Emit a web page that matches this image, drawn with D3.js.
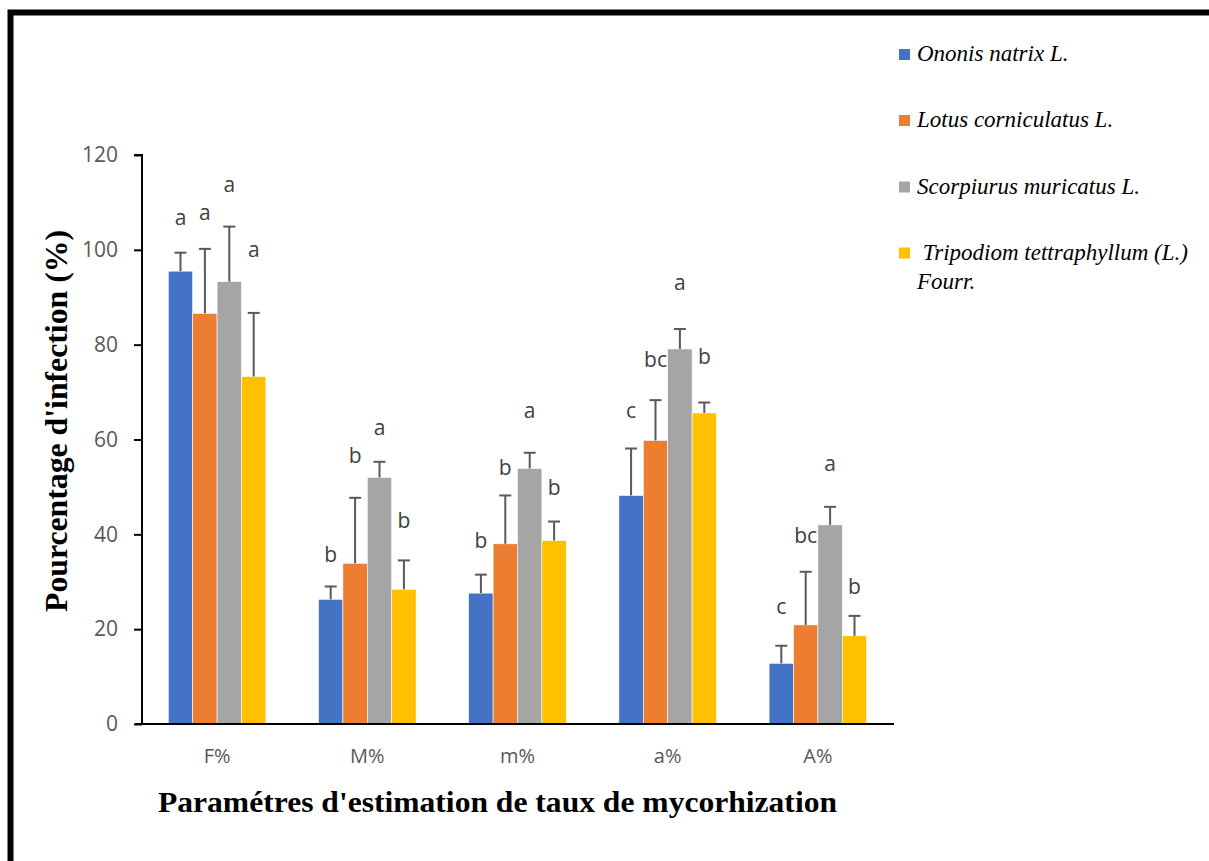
<!DOCTYPE html>
<html>
<head>
<meta charset="utf-8">
<script src="https://cdn.jsdelivr.net/npm/d3@7"></script>
<style>
  html, body { margin: 0; padding: 0; background: #fff; }
  svg { display: block; }
  .serif { font-family: "Times New Roman", Times, "Liberation Serif", Tinos, serif; }
  .sans { font-family: "Open Sans", sans-serif; }
</style>
</head>
<body>
<svg id="chart" width="1209" height="861"></svg>
<script>
// ---- data ----
const categories = ["F%", "M%", "m%", "a%", "A%"];
const seriesNames = ["Ononis natrix L.", "Lotus corniculatus L.", "Scorpiurus muricatus L.", "Tripodiom tettraphyllum (L.) Fourr."];
const ononisValues   = [95.5, 26.3, 27.6, 48.2, 12.8];
const lotusValues    = [86.6, 33.9, 38.0, 59.8, 20.9];
const scorpiValues   = [93.3, 52.0, 53.9, 79.1, 42.0];
const tripoValues    = [73.3, 28.4, 38.7, 65.6, 18.6];
const ononisErrTop   = [99.4, 29.0, 31.5, 58.1, 16.5];
const lotusErrTop    = [100.2, 47.7, 48.2, 68.3, 32.1];
const scorpiErrTop   = [104.9, 55.3, 57.2, 83.3, 45.8];
const tripoErrTop    = [86.7, 34.5, 42.7, 67.8, 22.8];
const ononisLetters  = ["a", "b", "b", "c", "c"];
const lotusLetters   = ["a", "b", "b", "bc", "bc"];
const scorpiLetters  = ["a", "a", "a", "a", "a"];
const tripoLetters   = ["a", "b", "b", "b", "b"];
const ononisLetterAt = [105.2, 34.2, 37.2, 64.5, 23.3];
const lotusLetterAt  = [106.3, 55.1, 52.5, 75.2, 38.1];
const scorpiLetterAt = [112.2, 60.9, 64.5, 91.5, 53.4];
const tripoLetterAt  = [98.5, 41.4, 48.3, 75.9, 27.4];
const yTicks = [0, 20, 40, 60, 80, 100, 120];
const colors = ["#4472C4", "#ED7D31", "#A5A5A5", "#FFC000"];

const seriesData = [
  {name: seriesNames[0], values: ononisValues, err: ononisErrTop, letters: ononisLetters, letterAt: ononisLetterAt},
  {name: seriesNames[1], values: lotusValues, err: lotusErrTop, letters: lotusLetters, letterAt: lotusLetterAt},
  {name: seriesNames[2], values: scorpiValues, err: scorpiErrTop, letters: scorpiLetters, letterAt: scorpiLetterAt},
  {name: seriesNames[3], values: tripoValues, err: tripoErrTop, letters: tripoLetters, letterAt: tripoLetterAt}
];

const svg = d3.select("#chart");

// outer frame (extends past right/bottom edges)
svg.append("rect")
  .attr("x", 10.5).attr("y", 12.5)
  .attr("width", 1300).attr("height", 1000)
  .attr("fill", "none").attr("stroke", "#000").attr("stroke-width", 6);

const plotLeft = 142, plotRight = 893, plotTop = 155, plotBottom = 724;

const x0 = d3.scaleBand().domain(categories).range([plotLeft, plotRight])
  .paddingInner(0.35).paddingOuter(0.175);
const x1 = d3.scaleBand().domain(d3.range(seriesData.length)).range([0, x0.bandwidth()]).padding(0);
const y = d3.scaleLinear().domain([0, 120]).range([plotBottom, plotTop]);

// y axis
const yAxis = svg.append("g").attr("transform", `translate(${plotLeft},0)`)
  .call(d3.axisLeft(y).tickValues(yTicks).tickSize(8).tickPadding(16).tickFormat(d3.format("d")));
yAxis.attr("font-family", null).attr("font-size", null);
yAxis.select(".domain").attr("stroke", "#000").attr("stroke-width", 2).attr("d", `M-8,${plotTop}H0V${plotBottom}`);
yAxis.selectAll(".tick line").attr("stroke", "#000").attr("stroke-width", 2);
yAxis.selectAll(".tick text").attr("fill", "#595959").attr("class", "sans")
  .style("font-size", "21px");

// bars
seriesData.forEach((s, si) => {
  const g = svg.append("g");
  g.selectAll("rect").data(categories).join("rect")
    .attr("x", (c) => x0(c) + x1(si))
    .attr("y", (c, ci) => y(s.values[ci]))
    .attr("width", x1.bandwidth())
    .attr("height", (c, ci) => y(0) - y(s.values[ci]))
    .attr("fill", colors[si])
    .attr("stroke", "#fff").attr("stroke-width", 0.6);
});

// error bars
seriesData.forEach((s, si) => {
  const g = svg.append("g").attr("stroke", "#595959").attr("stroke-width", 2);
  categories.forEach((c, ci) => {
    const cx = x0(c) + x1(si) + x1.bandwidth() / 2;
    g.append("line").attr("x1", cx).attr("x2", cx)
      .attr("y1", y(s.values[ci])).attr("y2", y(s.err[ci]));
    g.append("line").attr("x1", cx - 6).attr("x2", cx + 6)
      .attr("y1", y(s.err[ci])).attr("y2", y(s.err[ci]));
  });
});

// significance letters
seriesData.forEach((s, si) => {
  svg.append("g").selectAll("text").data(categories).join("text")
    .attr("class", "sans")
    .attr("x", (c) => x0(c) + x1(si) + x1.bandwidth() / 2)
    .attr("y", (c, ci) => y(s.letterAt[ci]))
    .attr("text-anchor", "middle")
    .attr("fill", "#404040")
    .style("font-size", "21px")
    .text((c, ci) => s.letters[ci]);
});

// x axis
const xAxis = svg.append("g").attr("transform", `translate(0,${plotBottom})`)
  .call(d3.axisBottom(x0).tickSize(0).tickPadding(0));
xAxis.attr("font-family", null).attr("font-size", null);
xAxis.select(".domain").attr("stroke", "#000").attr("stroke-width", 2).attr("d", `M135,0H894`);
xAxis.selectAll(".tick text").attr("fill", "#595959").attr("dy", null).attr("y", 39)
  .attr("class", "sans").style("font-size", "20px");

// axis titles
svg.append("text")
  .attr("class", "serif")
  .attr("x", 158).attr("y", 812)
  .attr("textLength", 679).attr("lengthAdjust", "spacingAndGlyphs")
  .style("font-weight", "bold").style("font-size", "29px")
  .text("Paramétres d'estimation de taux de mycorhization");

svg.append("text")
  .attr("class", "serif")
  .attr("transform", "translate(67,421) rotate(-90)")
  .attr("text-anchor", "middle")
  .attr("textLength", 382).attr("lengthAdjust", "spacingAndGlyphs")
  .style("font-weight", "bold").style("font-size", "31px")
  .text("Pourcentage d'infection (%)");

// legend
const legendRows = [
  {lines: [seriesNames[0]], y: 61},
  {lines: [seriesNames[1]], y: 127},
  {lines: [seriesNames[2]], y: 193.5},
  {lines: ["\u00a0Tripodiom tettraphyllum (L.)", "Fourr."], y: 259.5}
];
const leg = svg.append("g");
legendRows.forEach((r, i) => {
  leg.append("rect").attr("x", 899).attr("y", r.y - 12).attr("width", 11).attr("height", 11)
    .attr("fill", colors[i]);
  r.lines.forEach((t, li) => {
    leg.append("text").attr("class", "serif").attr("x", 917).attr("y", r.y + li * 29)
      .style("font-style", "italic").style("font-size", "23px")
      .attr("fill", "#000")
      .text(t);
  });
});
</script>
</body>
</html>
